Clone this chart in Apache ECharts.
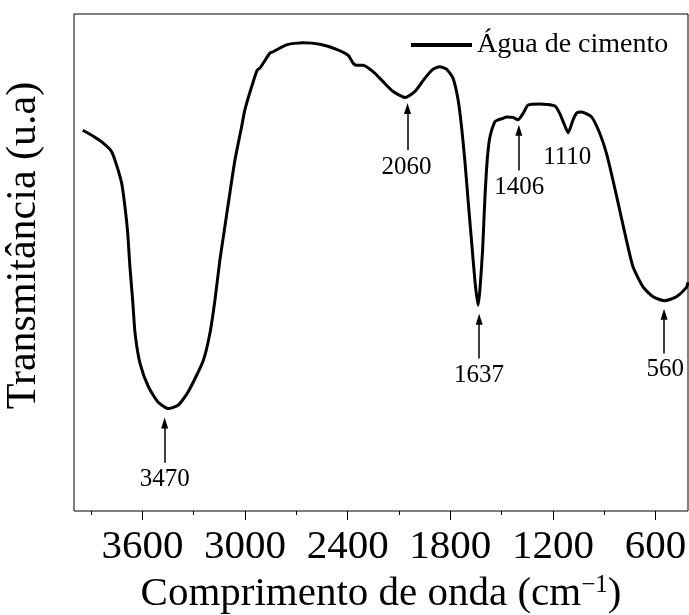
<!DOCTYPE html>
<html>
<head>
<meta charset="utf-8">
<script src="https://cdn.jsdelivr.net/npm/echarts@6/dist/echarts.min.js"></script>
<style>
html,body{margin:0;padding:0;background:#fff}
#chart{width:689px;height:615px}
</style>
</head>
<body>
<div id="chart"></div>
<script>
// espectro FTIR (cm-1, u.a.)
const wavenumbers = [3949, 3887, 3829, 3780, 3751, 3721, 3702, 3686, 3673, 3657, 3643, 3614, 3565, 3508, 3449,
    3391, 3332, 3244, 3205, 3176, 3147, 3118, 3089, 3059, 3020, 3001, 2961, 2929, 2913, 2855, 2836, 2757,
    2660, 2562, 2465, 2397, 2368, 2348, 2309, 2251, 2193, 2134, 2062, 2007, 1948, 1900, 1862, 1822, 1784,
    1754, 1734, 1715, 1696, 1676, 1656, 1638, 1627, 1611, 1598, 1584, 1568, 1540, 1521, 1491, 1472, 1433,
    1404, 1374, 1345, 1276, 1189, 1160, 1137, 1111, 1082, 1060, 1033, 974, 926, 887, 849, 809, 770, 731,
    673, 614, 547, 478, 419, 410];
const transmittance = [76.6, 75.4, 74.0, 72.3, 69.6, 65.9, 61.2, 55.9, 49.1, 42.4, 35.8, 29.7, 25.0, 21.9, 20.6,
    21.3, 24.0, 30.3, 35.8, 42.4, 50.5, 57.2, 63.9, 70.6, 77.3, 80.7, 85.4, 88.7, 89.1, 92.1, 92.4, 93.8,
    94.2, 93.9, 92.9, 91.7, 90.1, 89.7, 89.7, 88.4, 86.4, 84.4, 83.2, 84.4, 87.1, 88.9, 89.4, 88.9, 87.1,
    82.7, 77.3, 70.6, 62.6, 54.5, 46.4, 41.4, 44.4, 52.5, 62.6, 70.6, 75.3, 78.3, 78.7, 79.0, 79.3, 79.2,
    78.7, 80.0, 81.7, 81.9, 81.5, 80.0, 78.1, 76.1, 78.7, 80.1, 80.3, 79.3, 76.0, 72.0, 66.6, 60.5, 54.5, 49.1,
    45.1, 43.1, 42.3, 43.1, 45.0, 46.0];

const majorTicks = [3600, 3000, 2400, 1800, 1200, 600];
const minorTicks = [3900, 3300, 2700, 2100, 1500, 900];

// rótulos dos picos
const peakNames = ['3470', '2060', '1637', '1406', '1110', '560'];
const peakLabelX = [3470, 2056, 1632, 1396, 1116, 543];
const peakLabelY = [6.3, 69.1, 27.2, 65.1, 71.1, 28.5];

// setas (sem seta no 1110)
const arrowX = [3470, 2050, 1631, 1399, 550];
const arrowBottom = [9.7, 72.6, 30.7, 68.5, 31.7];
const arrowTip = [18.8, 82.1, 39.7, 77.7, 40.7];

const serif = 'Liberation Serif';

let chart = echarts.init(document.getElementById('chart'));

let spectrum = wavenumbers.map(function (w, i) { return [w, transmittance[i]]; });
let labels = peakNames.map(function (n, i) { return {name: n, value: [peakLabelX[i], peakLabelY[i]]}; });
let arrows = arrowX.map(function (x, i) {
    return [{coord: [x, arrowBottom[i]]}, {coord: [x, arrowTip[i] - 1.1]}];
});

let option = {
    animation: false,
    grid: {
        left: 74, right: 1, top: 14, bottom: 104,
        outerBoundsMode: 'none',
        show: true, borderColor: '#000', borderWidth: 1
    },
    legend: {
        data: ['Água de cimento'],
        left: 411, top: 31, padding: 0,
        icon: 'rect', itemWidth: 61, itemHeight: 4,
        textStyle: {fontFamily: serif, fontSize: 28, color: '#000'}
    },
    xAxis: [{
        type: 'value', inverse: true, min: 410, max: 4000, position: 'bottom',
        splitLine: {show: false},
        axisLine: {show: false},
        axisTick: {show: true, length: 9, customValues: majorTicks, lineStyle: {color: '#000', width: 1}},
        axisLabel: {
            customValues: majorTicks, margin: 16,
            formatter: function (v) { return String(v); },
            fontFamily: serif, fontSize: 41, color: '#000'
        },
        name: '{a|Comprimento de onda (cm}{s|−1}{a|)}',
        nameLocation: 'middle', nameGap: 62,
        nameTextStyle: {
            rich: {
                a: {fontFamily: serif, fontSize: 41, color: '#000'},
                s: {fontFamily: serif, fontSize: 25, color: '#000', padding: [0, 0, 18, 0]}
            }
        }
    }, {
        type: 'value', inverse: true, min: 410, max: 4000, position: 'bottom',
        splitLine: {show: false},
        axisLine: {show: false},
        axisTick: {show: true, length: 4, customValues: minorTicks, lineStyle: {color: '#000', width: 1}},
        axisLabel: {show: false}
    }],
    yAxis: {
        type: 'value', min: 0, max: 100,
        splitLine: {show: false},
        axisLine: {show: false},
        axisTick: {show: false},
        axisLabel: {show: false},
        name: 'Transmitância (u.a)',
        nameLocation: 'middle', nameGap: 29,
        nameTextStyle: {fontFamily: serif, fontSize: 42, color: '#000', padding: [0, 0, 0, 34]}
    },
    series: [{
        name: 'Água de cimento',
        type: 'line',
        data: spectrum,
        smooth: 0.2,
        showSymbol: false,
        lineStyle: {color: '#000', width: 3},
        itemStyle: {color: '#000'}
    }, {
        name: 'picos',
        type: 'scatter',
        data: labels,
        symbolSize: 0,
        itemStyle: {color: '#000'},
        label: {
            show: true, position: 'inside', formatter: '{b}',
            fontFamily: serif, fontSize: 25, color: '#000', opacity: 1, textBorderWidth: 0
        },
        markLine: {
            silent: true,
            symbol: ['none', 'triangle'],
            symbolSize: [7, 11],
            label: {show: false},
            lineStyle: {color: '#000', width: 1.5, type: 'solid', opacity: 1},
            itemStyle: {color: '#000'},
            data: arrows
        }
    }]
};

chart.setOption(option);
</script>
</body>
</html>
